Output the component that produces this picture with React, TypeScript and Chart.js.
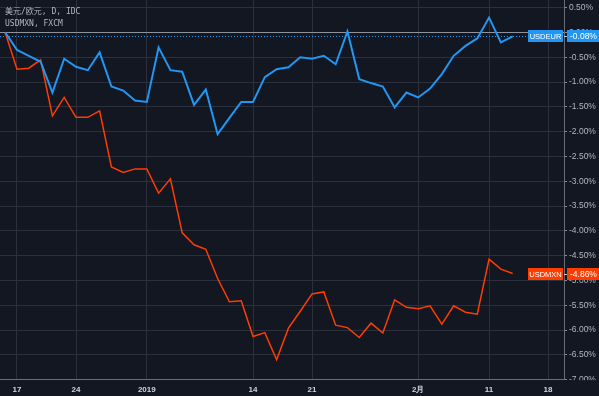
import React, { useEffect, useRef } from 'react';
import { Chart, registerables } from 'chart.js';

Chart.register(...registerables);

// ---------- data ----------
const DATES = [
  '2018-12-14', '2018-12-17', '2018-12-18', '2018-12-19', '2018-12-20', '2018-12-21',
  '2018-12-24', '2018-12-25', '2018-12-26', '2018-12-27', '2018-12-28', '2018-12-31',
  '2019-01-01', '2019-01-02', '2019-01-03', '2019-01-04', '2019-01-07', '2019-01-08',
  '2019-01-09', '2019-01-10', '2019-01-11', '2019-01-14', '2019-01-15', '2019-01-16',
  '2019-01-17', '2019-01-18', '2019-01-21', '2019-01-22', '2019-01-23', '2019-01-24',
  '2019-01-25', '2019-01-28', '2019-01-29', '2019-01-30', '2019-01-31', '2019-02-01',
  '2019-02-04', '2019-02-05', '2019-02-06', '2019-02-07', '2019-02-08', '2019-02-11',
  '2019-02-12', '2019-02-13',
];

const USDEUR = [
  0, -0.35, -0.47, -0.59, -1.21, -0.53, -0.69, -0.76, -0.40, -1.09, -1.17, -1.37,
  -1.40, -0.30, -0.76, -0.79, -1.46, -1.15, -2.05, -1.72, -1.40, -1.40, -0.90, -0.74,
  -0.70, -0.50, -0.53, -0.47, -0.64, 0.02, -0.94, -1.02, -1.09, -1.51, -1.21, -1.31,
  -1.13, -0.84, -0.47, -0.27, -0.12, 0.30, -0.20, -0.08,
];

const USDMXN = [
  0, -0.74, -0.72, -0.55, -1.68, -1.31, -1.71, -1.71, -1.58, -2.71, -2.82, -2.75,
  -2.75, -3.24, -2.95, -4.04, -4.28, -4.37, -4.96, -5.43, -5.41, -6.13, -6.05, -6.60,
  -5.96, -5.62, -5.27, -5.23, -5.90, -5.95, -6.15, -5.86, -6.06, -5.39, -5.54, -5.57,
  -5.51, -5.88, -5.51, -5.64, -5.68, -4.57, -4.77, -4.86,
];

const TICK_INDEX = [1, 6, 12, 21, 26, 35, 41, 46];
const TICK_LABELS = ['17', '24', '2019', '14', '21', '2月', '11', '18'];
const SERIES_NAMES = ['USDEUR', 'USDMXN'];
const LAST_LABELS = ['-0.08%', '-4.86%'];
const TITLE_LINES = ['美元/欧元, D, IDC', 'USDMXN, FXCM'];

// ---------- style ----------
const BG = '#131722';
const GRID = '#2c303c';
const TEXT = '#b2b5be';
const BLUE = '#2196f3';
const RED = '#ff3d00';
const AXIS_LINE = '#6a6d78';
const SANS = '"Liberation Sans", Arial, sans-serif';
const MONO = '"DejaVu Sans Mono", "Noto Sans CJK SC", monospace';

const decor = {
  id: 'decor',
  beforeDraw(chart: any) {
    const { ctx, width, height } = chart;
    ctx.save();
    ctx.fillStyle = BG;
    ctx.fillRect(0, 0, width, height);
    ctx.restore();
  },
  beforeDatasetsDraw(chart: any) {
    const { ctx, chartArea: a, scales } = chart;
    const y = scales.y;
    ctx.save();
    const y0 = Math.round(y.getPixelForValue(0)) + 0.5;
    ctx.strokeStyle = '#8f929b';
    ctx.lineWidth = 1;
    ctx.beginPath();
    ctx.moveTo(a.left, y0);
    ctx.lineTo(a.right, y0);
    ctx.stroke();
    const yl = Math.round(y.getPixelForValue(USDEUR[USDEUR.length - 1])) + 0.5;
    ctx.setLineDash([1, 2]);
    ctx.strokeStyle = BLUE;
    ctx.beginPath();
    ctx.moveTo(a.left, yl);
    ctx.lineTo(a.right, yl);
    ctx.stroke();
    ctx.restore();
  },
  afterDraw(chart: any) {
    const { ctx, chartArea: a, scales, width, height } = chart;
    const y = scales.y;
    ctx.save();
    // clip the bottom-most price label like the reference
    ctx.fillStyle = BG;
    ctx.fillRect(a.right + 1, a.bottom + 0.5, width - a.right, height - a.bottom);

    const series = [USDEUR, USDMXN];
    const colors = [BLUE, RED];
    series.forEach((arr, k) => {
      const yc = Math.round(y.getPixelForValue(arr[arr.length - 1]));
      ctx.fillStyle = colors[k];
      ctx.fillRect(a.right - 36, yc - 6, 35, 12);
      ctx.fillRect(a.right + 3, yc - 6, width - a.right - 3, 12);
      ctx.strokeStyle = '#c8cad0';
      ctx.lineWidth = 1;
      ctx.beginPath();
      ctx.moveTo(a.right, yc + 0.5);
      ctx.lineTo(a.right + 3, yc + 0.5);
      ctx.stroke();
      ctx.fillStyle = '#ffffff';
      ctx.font = `7.5px ${SANS}`;
      ctx.textBaseline = 'middle';
      ctx.textAlign = 'center';
      ctx.fillText(SERIES_NAMES[k], a.right - 18.5, yc + 0.5);
      ctx.textAlign = 'left';
      ctx.font = `8.5px ${SANS}`;
      ctx.fillText(LAST_LABELS[k], a.right + 6, yc + 0.5);
    });

    ctx.fillStyle = TEXT;
    ctx.font = `8px ${MONO}`;
    ctx.textAlign = 'left';
    ctx.textBaseline = 'middle';
    ctx.fillText(TITLE_LINES[0], 5, 12);
    ctx.fillText(TITLE_LINES[1], 5, 24);
    ctx.restore();
  },
};

export default function App() {
  const ref = useRef<HTMLCanvasElement>(null);
  useEffect(() => {
    const chart = new Chart(ref.current as HTMLCanvasElement, {
      type: 'line',
      data: {
        labels: DATES,
        datasets: [
          {
            label: SERIES_NAMES[0],
            data: USDEUR.map((v, i) => ({ x: i, y: v })),
            borderColor: BLUE,
            borderWidth: 2,
            pointRadius: 0,
            tension: 0,
          },
          {
            label: SERIES_NAMES[1],
            data: USDMXN.map((v, i) => ({ x: i, y: v })),
            borderColor: RED,
            borderWidth: 1.5,
            pointRadius: 0,
            tension: 0,
          },
        ],
      },
      options: {
        animation: false,
        responsive: false,
        devicePixelRatio: 1,
        events: [],
        layout: { padding: 0 },
        plugins: { legend: { display: false }, tooltip: { enabled: false }, title: { display: false } },
        scales: {
          x: {
            type: 'linear',
            min: -0.44,
            max: 47.35,
            afterBuildTicks: (s: any) => {
              s.ticks = TICK_INDEX.map((v) => ({ value: v }));
            },
            afterFit: (s: any) => {
              s.height = 16.3;
              s.paddingLeft = 0;
              s.paddingRight = 0;
            },
            grid: { color: GRID, drawTicks: false, lineWidth: 1 },
            border: { display: true, color: AXIS_LINE },
            ticks: {
              autoSkip: false,
              maxRotation: 0,
              padding: 5,
              color: '#d1d4dc',
              font: { size: 8, family: SANS, weight: 'bold' },
              callback: (_v: any, i: number) => TICK_LABELS[i],
            },
          },
          y: {
            type: 'linear',
            position: 'right',
            min: -7,
            max: 0.655,
            afterFit: (s: any) => {
              s.width = 35;
              s.paddingTop = 0;
              s.paddingBottom = 0;
            },
            grid: { color: GRID, tickColor: '#8a8d96', tickLength: 3, lineWidth: 1 },
            border: { display: true, color: AXIS_LINE },
            ticks: {
              stepSize: 0.5,
              includeBounds: false,
              padding: 2,
              color: TEXT,
              font: { size: 8.5, family: SANS },
              callback: (v: any) => Number(v).toFixed(2) + '%',
            },
          },
        },
      },
      plugins: [decor],
    } as any);
    return () => chart.destroy();
  }, []);
  return (
    <div style={{ position: 'fixed', left: 0, top: 0, width: 599, height: 396, background: BG }}>
      <canvas ref={ref} width={599} height={396} style={{ display: 'block', width: 599, height: 396 }} />
    </div>
  );
}
